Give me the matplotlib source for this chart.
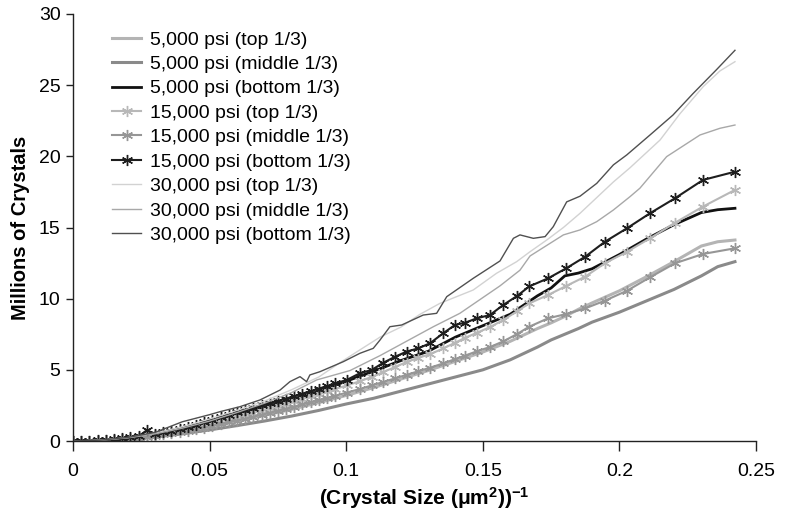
import matplotlib
matplotlib.use("Agg")
import matplotlib.pyplot as plt

plt.rcParams['font.family'] = ['Liberation Sans', 'DejaVu Sans']
plt.rcParams['mathtext.fontset'] = 'custom'
plt.rcParams['mathtext.rm'] = 'Liberation Sans'
plt.rcParams['mathtext.bf'] = 'Liberation Sans:bold'
plt.rcParams['mathtext.default'] = 'bf'

# ---------------- data ----------------
labels = ["5,000 psi (top 1/3)", "5,000 psi (middle 1/3)", "5,000 psi (bottom 1/3)",
          "15,000 psi (top 1/3)", "15,000 psi (middle 1/3)", "15,000 psi (bottom 1/3)",
          "30,000 psi (top 1/3)", "30,000 psi (middle 1/3)", "30,000 psi (bottom 1/3)"]

# 5,000 psi series (shared x)
x5 = [0, 0.01, 0.02, 0.03, 0.04, 0.05, 0.06, 0.07, 0.08, 0.09, 0.1, 0.11, 0.12, 0.13,
      0.14, 0.15, 0.16, 0.17, 0.175, 0.18, 0.185, 0.19, 0.2, 0.21, 0.22, 0.23, 0.236, 0.2423]
y5_top = [0, 0.04, 0.16, 0.37, 0.68, 1.02, 1.4, 1.8, 2.22, 2.7, 3.2, 3.75, 4.35, 4.95,
          5.6, 6.25, 7.0, 7.9, 8.3, 8.75, 9.25, 9.7, 10.55, 11.55, 12.6, 13.7, 14.0, 14.12]
y5_mid = [0, 0.03, 0.12, 0.28, 0.5, 0.78, 1.08, 1.4, 1.75, 2.15, 2.6, 3.0, 3.5, 4.0,
          4.5, 5.0, 5.7, 6.6, 7.1, 7.5, 7.9, 8.35, 9.05, 9.85, 10.65, 11.6, 12.25, 12.6]
y5_bot = [0, 0.05, 0.2, 0.48, 0.9, 1.38, 1.9, 2.4, 2.9, 3.5, 4.2, 4.9, 5.65, 6.3,
          7.3, 8.1, 8.9, 10.2, 10.75, 11.6, 11.8, 12.1, 13.1, 14.2, 15.2, 16.05, 16.25, 16.35]

# 15,000 psi series (shared x, one marker per point)
x15 = [0, 0.003, 0.006, 0.009, 0.012, 0.015, 0.018, 0.021, 0.024, 0.027, 0.030, 0.033,
       0.036, 0.039, 0.042, 0.045, 0.048, 0.051, 0.054, 0.057, 0.060, 0.063, 0.066, 0.069,
       0.072, 0.075, 0.078, 0.081, 0.084, 0.087, 0.090, 0.093, 0.096, 0.1002, 0.105, 0.1093,
       0.1136, 0.1179, 0.1221, 0.1264, 0.1307, 0.1355, 0.1398, 0.1435, 0.1478, 0.1526,
       0.1575, 0.1624, 0.167, 0.1739, 0.1805, 0.1875, 0.1947, 0.2028, 0.2112, 0.2204,
       0.2306, 0.2423]
y15_top = [0, 0.01, 0.02, 0.04, 0.06, 0.1, 0.15, 0.21, 0.28, 0.36, 0.45, 0.54,
           0.64, 0.74, 0.85, 0.97, 1.1, 1.24, 1.38, 1.53, 1.68, 1.83, 1.98, 2.14,
           2.30, 2.46, 2.62, 2.79, 2.96, 3.13, 3.30, 3.48, 3.66, 3.9, 4.2, 4.5,
           4.85, 5.2, 5.55, 5.85, 6.1, 6.5, 6.9, 7.25, 7.6, 8.0,
           8.5, 9.1, 9.67, 10.26, 10.89, 11.55, 12.49, 13.3, 14.24, 15.34,
           16.47, 17.64]
y15_mid = [0, 0.01, 0.02, 0.03, 0.05, 0.08, 0.12, 0.17, 0.23, 0.3, 0.38, 0.46,
           0.55, 0.64, 0.73, 0.83, 0.94, 1.06, 1.18, 1.31, 1.44, 1.57, 1.71, 1.85,
           1.99, 2.13, 2.27, 2.42, 2.57, 2.72, 2.87, 3.02, 3.18, 3.4, 3.65, 3.9,
           4.15, 4.4, 4.65, 4.9, 5.15, 5.45, 5.75, 6.0, 6.3, 6.6,
           7.0, 7.5, 8.03, 8.62, 8.92, 9.32, 9.86, 10.56, 11.5, 12.49,
           13.14, 13.54]
y15_bot = [0, 0.01, 0.02, 0.04, 0.07, 0.12, 0.18, 0.25, 0.33, 0.75, 0.52, 0.62,
           0.73, 0.84, 0.97, 1.12, 1.30, 1.48, 1.66, 1.84, 2.02, 2.18, 2.34, 2.50,
           2.66, 2.82, 2.98, 3.15, 3.33, 3.50, 3.68, 3.86, 4.05, 4.29, 4.76, 4.99,
           5.50, 5.92, 6.28, 6.51, 6.87, 7.57, 8.15, 8.31, 8.62, 8.85,
           9.56, 10.17, 10.86, 11.43, 12.13, 12.95, 14.0, 14.95, 16.0, 17.06,
           18.34, 18.92]

# 30,000 psi series
x30_top = [0, 0.01, 0.02, 0.03, 0.04, 0.05, 0.06, 0.07, 0.08, 0.09, 0.0977, 0.105, 0.1124,
           0.12, 0.127, 0.1343, 0.1465, 0.155, 0.1624, 0.1673, 0.1734, 0.1795, 0.1856,
           0.1917, 0.1978, 0.2039, 0.2149, 0.2222, 0.2307, 0.2368, 0.2423]
y30_top = [0, 0.06, 0.24, 0.55, 1.0, 1.55, 2.15, 2.8, 3.6, 4.5, 5.5, 6.4, 7.3,
           8.0, 8.9, 9.67, 10.61, 11.78, 12.6, 13.3, 14.12, 15.0, 16.0,
           17.1, 18.2, 19.2, 21.15, 23.0, 24.9, 26.0, 26.65]
x30_mid = [0, 0.01, 0.02, 0.03, 0.04, 0.05, 0.06, 0.07, 0.08, 0.0892, 0.1014, 0.1124,
           0.1319, 0.1416, 0.1563, 0.1636, 0.1673, 0.1795, 0.1856, 0.1917, 0.1978, 0.2039,
           0.2075, 0.2173, 0.2295, 0.2368, 0.2423]
y30_mid = [0, 0.05, 0.22, 0.5, 0.9, 1.4, 2.0, 2.65, 3.4, 4.29, 4.95, 6.0,
           8.03, 8.97, 10.9, 12.0, 13.0, 14.48, 14.83, 15.41, 16.23, 17.17,
           17.76, 19.98, 21.5, 21.97, 22.2]
x30_bot = [0, 0.01, 0.02, 0.03, 0.04, 0.05, 0.0538, 0.0611, 0.0684, 0.0758, 0.0794, 0.0831,
           0.0855, 0.0867, 0.0904, 0.0989, 0.105, 0.1099, 0.1124, 0.116, 0.1203, 0.1282,
           0.1331, 0.1368, 0.1465, 0.1563, 0.1612, 0.1636, 0.1685, 0.1728, 0.1758, 0.1807,
           0.1856, 0.1917, 0.1978, 0.2027, 0.2112, 0.2196, 0.2269, 0.2356, 0.2423]
y30_bot = [0, 0.06, 0.25, 0.6, 1.35, 1.85, 2.06, 2.41, 2.88, 3.58, 4.17, 4.52,
           4.17, 4.64, 4.87, 5.57, 6.16, 6.51, 7.1, 8.03, 8.15, 8.85,
           8.97, 10.14, 11.43, 12.65, 14.24, 14.48, 14.24, 14.36, 15.06, 16.8,
           17.2, 18.1, 19.4, 20.1, 21.5, 22.9, 24.4, 26.1, 27.45]

xticks = [0, 0.05, 0.1, 0.15, 0.2, 0.25]
xticklabels = ["0", "0.05", "0.1", "0.15", "0.2", "0.25"]
yticks = [0, 5, 10, 15, 20, 25, 30]

# ---------------- plot ----------------
fig = plt.figure(figsize=(7.87, 5.16), dpi=100)
ax = fig.add_axes([73/787, 1-441/516, (756-73)/787, (441-14)/516])

ast = (6, 2, 0)
ax.plot(x5, y5_top, color='#b4b4b4', lw=2.2, label=labels[0])
ax.plot(x5, y5_mid, color='#8a8a8a', lw=2.2, label=labels[1])
ax.plot(x5, y5_bot, color='#111111', lw=2.0, label=labels[2])
ax.plot(x15, y15_top, color='#b8b8b8', lw=1.5, marker=ast, ms=8, mew=1.0, label=labels[3])
ax.plot(x15, y15_mid, color='#969696', lw=1.5, marker=ast, ms=8, mew=1.0, label=labels[4])
ax.plot(x15, y15_bot, color='#1e1e1e', lw=1.5, marker=ast, ms=8, mew=1.0, label=labels[5])
ax.plot(x30_top, y30_top, color='#d2d2d2', lw=1.0, label=labels[6])
ax.plot(x30_mid, y30_mid, color='#a8a8a8', lw=1.0, label=labels[7])
ax.plot(x30_bot, y30_bot, color='#505050', lw=1.0, label=labels[8])

ax.set_xlim(0, 0.25)
ax.set_ylim(0, 30)
ax.set_xticks(xticks)
ax.set_xticklabels(xticklabels)
ax.set_yticks(yticks)
for s in ['top', 'right']:
    ax.spines[s].set_visible(False)
for s in ['left', 'bottom']:
    ax.spines[s].set_color('#222222')
    ax.spines[s].set_linewidth(1.0)
ax.tick_params(axis='x', direction='out', length=7, width=1, labelsize=14, pad=9, colors='#222222', labelcolor='black')
ax.tick_params(axis='y', direction='out', length=5, width=1, labelsize=14, pad=4, colors='#222222', labelcolor='black')

ax.set_ylabel("Millions of Crystals", fontsize=14.5, fontweight='bold', labelpad=6)
ax.set_xlabel("(Crystal Size (μm$^{2}$))$^{-1}$", fontsize=15, fontweight='bold', labelpad=4)
ax.xaxis.set_label_coords(0.515, -0.103)

leg = ax.legend(loc='upper left', bbox_to_anchor=(112/787, 1-31/516), bbox_transform=fig.transFigure,
                frameon=False, fontsize=14, handlelength=1.5, handletextpad=0.45,
                labelspacing=0.35, borderpad=0, borderaxespad=0)

fig.savefig("out.png", dpi=100)
